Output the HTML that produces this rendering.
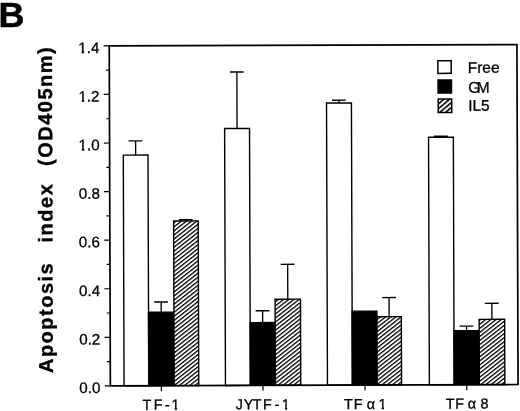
<!DOCTYPE html>
<html><head><meta charset="utf-8"><title>Figure B</title>
<style>html,body{margin:0;padding:0;background:#fff}svg{display:block}text{font-family:"Liberation Sans",Arial,Helvetica,sans-serif;fill:#000}.r{stroke:#000;stroke-width:.3}.b{font-weight:bold;font-size:20px;letter-spacing:1.5px;stroke:#000;stroke-width:.35}</style>
</head><body>
<svg width="520" height="411" viewBox="0 0 520 411">
<defs><pattern id="h" patternUnits="userSpaceOnUse" width="10" height="3.2" patternTransform="rotate(-38)"><rect x="0" y="0" width="10" height="3.2" fill="#fff"/><rect x="0" y="0" width="10" height="1.3" fill="#000"/></pattern><pattern id="h2" patternUnits="userSpaceOnUse" width="10" height="3.7" patternTransform="translate(438 99) rotate(-40)"><rect x="0" y="0" width="10" height="3.7" fill="#fff"/><rect x="0" y="0" width="10" height="1.6" fill="#000"/></pattern></defs>
<rect x="0" y="0" width="520" height="411" fill="#fff"/>
<text x="-1.6" y="26.6" font-size="35.9" font-weight="bold" stroke="#000" stroke-width=".5">B</text>
<g transform="rotate(-0.19 313 215)">
<rect x="123.50" y="154.50" width="24.70" height="230.70" fill="#fff" stroke="#000" stroke-width="1.4"/>
<path d="M135.85 154.50V140.30M128.85 140.30H142.65" stroke="#000" stroke-width="1.35" fill="none"/>
<rect x="148.20" y="311.70" width="25.40" height="73.50" fill="#000" stroke="#000" stroke-width="1.4"/>
<path d="M160.90 311.70V301.50M153.90 301.50H167.70" stroke="#000" stroke-width="1.35" fill="none"/>
<rect x="173.60" y="220.50" width="24.60" height="164.70" fill="url(#h)" stroke="#000" stroke-width="1.4"/>
<path d="M185.90 220.50V219.30M178.90 219.30H192.70" stroke="#000" stroke-width="1.35" fill="none"/>
<rect x="224.90" y="128.25" width="24.90" height="256.95" fill="#fff" stroke="#000" stroke-width="1.4"/>
<path d="M237.35 128.25V71.75M230.35 71.75H244.15" stroke="#000" stroke-width="1.35" fill="none"/>
<rect x="249.80" y="322.40" width="25.00" height="62.80" fill="#000" stroke="#000" stroke-width="1.4"/>
<path d="M262.30 322.40V310.60M255.30 310.60H269.10" stroke="#000" stroke-width="1.35" fill="none"/>
<rect x="274.80" y="299.10" width="25.40" height="86.10" fill="url(#h)" stroke="#000" stroke-width="1.4"/>
<path d="M287.50 299.10V264.20M280.50 264.20H294.30" stroke="#000" stroke-width="1.35" fill="none"/>
<rect x="326.90" y="103.10" width="24.90" height="282.10" fill="#fff" stroke="#000" stroke-width="1.4"/>
<path d="M339.35 103.10V100.30M332.35 100.30H346.15" stroke="#000" stroke-width="1.35" fill="none"/>
<rect x="351.80" y="311.30" width="24.80" height="73.90" fill="#000" stroke="#000" stroke-width="1.4"/>
<rect x="376.60" y="316.90" width="24.40" height="68.30" fill="url(#h)" stroke="#000" stroke-width="1.4"/>
<path d="M388.80 316.90V297.80M381.80 297.80H395.60" stroke="#000" stroke-width="1.35" fill="none"/>
<rect x="428.80" y="137.70" width="24.80" height="247.50" fill="#fff" stroke="#000" stroke-width="1.4"/>
<path d="M441.20 137.70V136.70M434.20 136.70H448.00" stroke="#000" stroke-width="1.35" fill="none"/>
<rect x="453.60" y="331.20" width="25.20" height="54.00" fill="#000" stroke="#000" stroke-width="1.4"/>
<path d="M466.20 331.20V326.60M459.20 326.60H473.00" stroke="#000" stroke-width="1.35" fill="none"/>
<rect x="478.80" y="319.90" width="25.50" height="65.30" fill="url(#h)" stroke="#000" stroke-width="1.4"/>
<path d="M491.55 319.90V303.90M484.55 303.90H498.35" stroke="#000" stroke-width="1.35" fill="none"/>
<rect x="109.8" y="45.2" width="407.70" height="340.00" fill="none" stroke="#000" stroke-width="1.7"/>
<path d="M104.10 385.20H109.80M106.50 360.91H109.80M104.10 336.63H109.80M106.50 312.34H109.80M104.10 288.06H109.80M106.50 263.77H109.80M104.10 239.49H109.80M106.50 215.20H109.80M104.10 190.91H109.80M106.50 166.63H109.80M104.10 142.34H109.80M106.50 118.06H109.80M104.10 93.77H109.80M106.50 69.49H109.80M104.10 45.20H109.80M160.80 385.20V390.70M262.40 385.20V390.70M364.40 385.20V390.70M466.20 385.20V390.70" stroke="#000" stroke-width="1.2" fill="none"/>
<text class="r" x="78.77" y="392.30" font-size="15.2">0.0</text>
<text class="r" x="78.77" y="343.73" font-size="15.2">0.2</text>
<text class="r" x="78.77" y="295.16" font-size="15.2">0.4</text>
<text class="r" x="78.77" y="246.59" font-size="15.2">0.6</text>
<text class="r" x="78.77" y="198.01" font-size="15.2">0.8</text>
<text class="r" x="78.77" y="149.44" font-size="15.2">1.0</text>
<path d="M78.01 147.00H82.14V150.74H78.01ZM84.67 147.00H88.04V150.74H84.67Z" fill="#fff"/>
<text class="r" x="78.77" y="100.87" font-size="15.2">1.2</text>
<path d="M78.01 98.43H82.14V102.17H78.01ZM84.67 98.43H88.04V102.17H84.67Z" fill="#fff"/>
<text class="r" x="78.77" y="52.30" font-size="15.2">1.4</text>
<path d="M78.01 49.86H82.14V53.60H78.01ZM84.67 49.86H88.04V53.60H84.67Z" fill="#fff"/>
<text class="r" x="141.9 153.1 164.3 170.9" y="409.1" font-size="14.4">TF-1</text>
<path d="M170.13 406.72H174.02V410.40H170.13ZM176.48 406.72H179.64V410.40H176.48Z" fill="#fff"/>
<text class="r" x="235.0 243.0 252.2 262.3 273.9 281.1" y="409.1" font-size="14.4">JYTF-1</text>
<path d="M280.33 406.72H284.22V410.40H280.33ZM286.68 406.72H289.84V410.40H286.68Z" fill="#fff"/>
<text class="r" x="343.4 353.1 362.0 366.2 377.8" y="409.1" font-size="14.4">TF α1</text>
<path d="M377.03 406.72H380.92V410.40H377.03ZM383.38 406.72H386.54V410.40H383.38Z" fill="#fff"/>
<text class="r" x="445.0 454.5 463.5 467.0 479.9" y="409.1" font-size="14.4">TF α8</text>
<text class="b" transform="translate(52.4 372.2) rotate(-90)">Apoptosis</text>
<text class="b" transform="translate(52.4 241.6) rotate(-90)">index</text>
<text class="b" transform="translate(52.4 165.1) rotate(-90)">(OD405nm)</text>
<rect x="438.4" y="61.1" width="13.3" height="12.7" fill="#fff" stroke="#000" stroke-width="1.5"/>
<rect x="438.5" y="80.4" width="13.4" height="13" fill="#000" stroke="#000" stroke-width="1.5"/>
<rect x="438.6" y="99.5" width="13.5" height="13.4" fill="url(#h2)" stroke="#000" stroke-width="1.5"/>
<text class="r" x="468.2" y="73.4" font-size="15.5">Free</text>
<text class="r" x="468.6" y="93.2" font-size="15.5">G<tspan dx="-3.6">M</tspan></text>
<text class="r" x="468.5" y="111.4" font-size="15.5">IL5</text>
</g>
</svg>
</body></html>
